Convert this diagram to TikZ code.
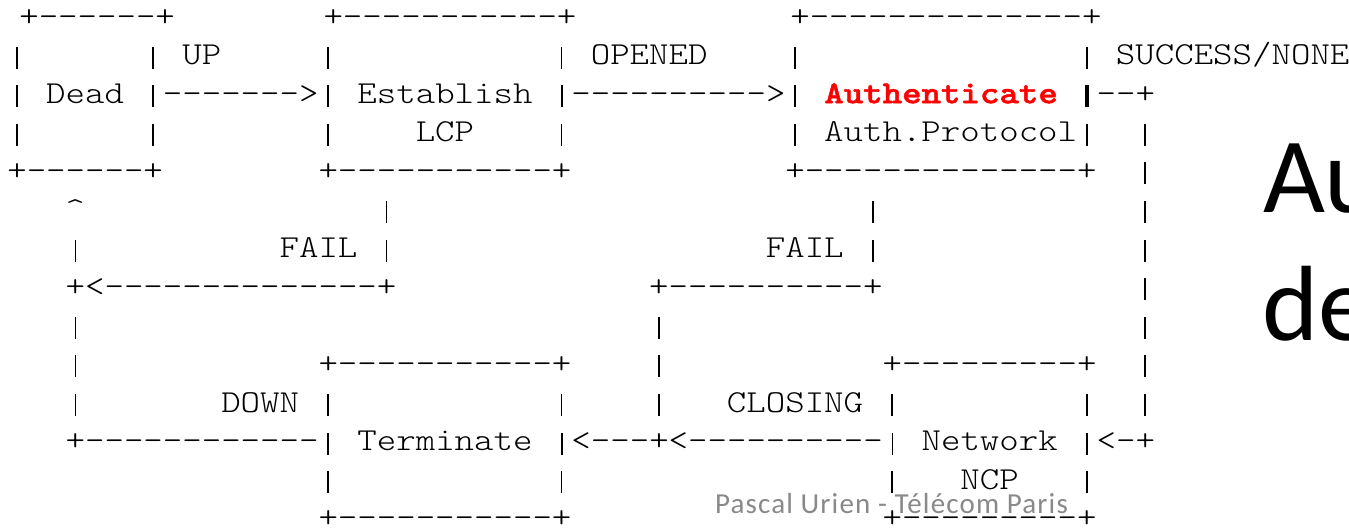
\documentclass[tikz,border=0pt]{standalone}
\usepackage{fontspec}
\newfontfamily\asciifont[FakeStretch=1.158]{lmmonolt10-regular.otf}
\newfontfamily\asciibold[FakeStretch=1.158,FakeBold=1.5]{lmmonolt10-bold.otf}
\newfontfamily\slidefont{Carlito}
\definecolor{footgray}{RGB}{137,137,137}
\tikzset{
  asc/.style={anchor=base west,inner sep=0pt,outer sep=0pt,
    font=\asciifont\fontsize{16}{19}\selectfont},
  slide/.style={anchor=base west,inner sep=0pt,outer sep=0pt},
}
% short bar, one column wide, in place of the | glyph
\newlength{\barwd}\setlength{\barwd}{0.85pt}
\protected\def\vbar{\makebox[9.725pt]{\rule[-2pt]{\barwd}{11pt}}}
\protected\def\boldbar{{\setlength{\barwd}{1.7pt}\vbar}}
{\catcode`\|=\active \protected\gdef|{\vbar}}
% one row of the ascii art: column/text pairs
\newcommand{\asciirow}[2]{%
  \foreach \col/\txt in {#2}
    \node[asc] (r#1c\col) at ({7.3+19.45*\col},{26+38.6*#1}) {\txt};}
\catcode`\|=\active

\begin{document}
\begin{tikzpicture}[x=0.5pt,y=-0.5pt]
  \path[use as bounding box,fill=white] (0,0) rectangle (1349,527);
  % top edges, drawn a little to the right
  \begin{scope}[xshift=6pt]
    \asciirow{0}{0/{+------+}}
  \end{scope}
  \begin{scope}[xshift=2.5pt]
    \asciirow{0}{16/{+-----------+},40/{+--------------+}}
  \end{scope}
  \asciirow{1}{0/|,7/{| UP},16/|,28/{| OPENED},40/|,55/{| SUCCESS/NONE}}
  \asciirow{2}{0/{| Dead |------->| Establish |---------->| \textcolor{red}{\asciibold Authenticate} \boldbar--+}}
  \asciirow{3}{0/|,7/|,16/|,21/LCP,28/|,40/{| Auth.Protocol|},58/|}
  \asciirow{4}{0/{+------+},16/{+-----------+},40/{+--------------+},58/|}
  \asciirow{5}{3/\textasciicircum,19/|,44/|,58/|}
  \asciirow{6}{3/|,14/{FAIL |},39/{FAIL |},58/|}
  \asciirow{7}{3/{+<--------------+},33/{+----------+},58/|}
  \asciirow{8}{3/|,33/|,58/|}
  \asciirow{9}{3/|,16/{+-----------+},33/|,45/{+---------+},58/|}
  \asciirow{10}{3/|,11/{DOWN |},28/|,33/|,37/{CLOSING |},55/|,58/|}
  \asciirow{11}{3/{+------------| Terminate |<---+<----------| Network |<-+}}
  \asciirow{12}{16/|,28/|,45/|,49/NCP,55/|}
  \asciirow{13}{16/{+-----------+},45/{+---------+}}
  % slide title, cut by the page edge
  \node[slide,font=\slidefont\fontsize{53.5}{64}\selectfont] (au) at (1263,212) {Au};
  \node[slide,font=\slidefont\fontsize{53.5}{64}\selectfont] (de) at (1262,340) {de};
  % footer
  \node[slide,text=footgray,font=\slidefont\fontsize{14.5}{17}\selectfont\addfontfeature{LetterSpace=4}] (foot) at (715,513) {Pascal Urien - Télécom Paris};
\end{tikzpicture}
\end{document}
